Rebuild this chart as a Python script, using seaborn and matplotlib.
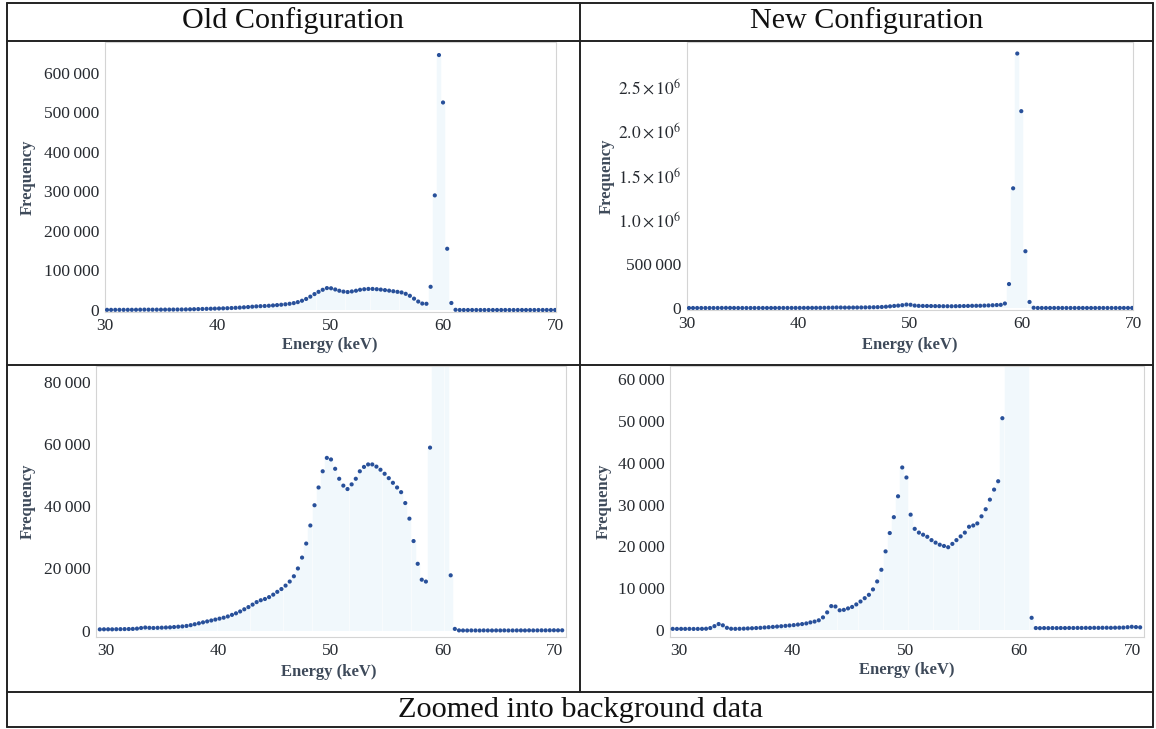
import numpy as np
import pandas as pd
import matplotlib
matplotlib.use("Agg")
import matplotlib.pyplot as plt
import seaborn as sns
from matplotlib.lines import Line2D
from matplotlib.ticker import FixedLocator, FixedFormatter

# ---------------- data ----------------
energy_kev = [
    29.44, 29.81, 30.18, 30.54, 30.91, 31.28, 31.65, 32.02, 32.38, 32.75,
    33.12, 33.49, 33.86, 34.22, 34.59, 34.96, 35.33, 35.70, 36.06, 36.43,
    36.80, 37.17, 37.54, 37.90, 38.27, 38.64, 39.01, 39.38, 39.74, 40.11,
    40.48, 40.85, 41.22, 41.58, 41.95, 42.32, 42.69, 43.06, 43.42, 43.79,
    44.16, 44.53, 44.90, 45.26, 45.63, 46.00, 46.37, 46.74, 47.10, 47.47,
    47.84, 48.21, 48.58, 48.94, 49.31, 49.68, 50.05, 50.42, 50.78, 51.15,
    51.52, 51.89, 52.26, 52.62, 52.99, 53.36, 53.73, 54.10, 54.46, 54.83,
    55.20, 55.57, 55.94, 56.30, 56.67, 57.04, 57.41, 57.78, 58.14, 58.51,
    58.88, 59.25, 59.62, 59.98, 60.35, 60.72, 61.09, 61.46, 61.82, 62.19,
    62.56, 62.93, 63.30, 63.66, 64.03, 64.40, 64.77, 65.14, 65.50, 65.87,
    66.24, 66.61, 66.98, 67.34, 67.71, 68.08, 68.45, 68.82, 69.18, 69.55,
    69.92, 70.29, 70.66,
]

old_counts = [
    450, 470, 480, 460, 500, 520, 540, 560, 600, 700,
    900, 1050, 950, 900, 950, 1000, 1050, 1100, 1200, 1300,
    1400, 1550, 1800, 2100, 2400, 2700, 3000, 3300, 3600, 3900,
    4200, 4600, 5100, 5600, 6200, 6900, 7600, 8400, 9200, 9800,
    10200, 10800, 11600, 12500, 13400, 14500, 15800, 17500, 20000, 23500,
    28000, 33800, 40300, 46000, 51200, 55500, 55000, 52000, 48800, 46600,
    45500, 47000, 48800, 51200, 52600, 53400, 53400, 52700, 51700, 50400,
    49000, 47500, 46000, 44500, 41000, 36000, 28800, 21500, 16400, 15800,
    58800, 290000, 645000, 525000, 155000, 17800, 600, 120, 100, 90,
    110, 100, 80, 120, 100, 90, 110, 100, 120, 90,
    100, 110, 120, 100, 130, 110, 120, 140, 130, 150,
    160, 140, 150,
]

new_counts = [
    250, 240, 250, 240, 250, 230, 240, 250, 280, 450,
    900, 1400, 1100, 500, 280, 250, 270, 300, 350, 400,
    450, 500, 580, 650, 720, 800, 880, 970, 1060, 1150,
    1280, 1400, 1550, 1800, 2000, 2300, 3000, 4200, 5700, 5600,
    4700, 4800, 5150, 5500, 6100, 6800, 7600, 8400, 9700, 11600,
    14400, 18800, 23200, 27000, 32000, 38900, 36500, 27600, 24200, 23300,
    22800, 22300, 21500, 20900, 20400, 20100, 19800, 20600, 21500, 22400,
    23300, 24700, 25000, 25500, 27200, 28900, 31200, 33600, 35600, 50700,
    270000, 1350000, 2870000, 2220000, 640000, 68000, 2900, 450, 420, 440,
    430, 450, 440, 460, 450, 470, 460, 480, 470, 490,
    480, 500, 490, 510, 520, 500, 530, 540, 560, 650,
    750, 680, 620,
]

panel_titles = ["Old Configuration", "New Configuration"]
footer_text = "Zoomed into background data"
x_label = "Energy (keV)"
y_label = "Frequency"

x_ticks = [30, 40, 50, 60, 70]
x_tick_labels = ["30", "40", "50", "60", "70"]

old_full_yticks = [0, 100000, 200000, 300000, 400000, 500000, 600000]
old_full_ylabels = ["0", "100\u2009000", "200\u2009000", "300\u2009000",
                    "400\u2009000", "500\u2009000", "600\u2009000"]
new_full_yticks = [0, 500000, 1000000, 1500000, 2000000, 2500000]
new_full_ylabels = ["0", "500\u2009000", r"$1.0\times 10^{6}$",
                    r"$1.5\times 10^{6}$", r"$2.0\times 10^{6}$",
                    r"$2.5\times 10^{6}$"]
old_zoom_yticks = [0, 20000, 40000, 60000, 80000]
old_zoom_ylabels = ["0", "20\u2009000", "40\u2009000", "60\u2009000", "80\u2009000"]
new_zoom_yticks = [0, 10000, 20000, 30000, 40000, 50000, 60000]
new_zoom_ylabels = ["0", "10\u2009000", "20\u2009000", "30\u2009000",
                    "40\u2009000", "50\u2009000", "60\u2009000"]

# ---------------- style ----------------
sns.set_theme(style="white")
plt.rcParams["font.family"] = ["Liberation Serif", "DejaVu Serif"]
plt.rcParams["mathtext.fontset"] = "stix"

W, H = 1156, 729
fig = plt.figure(figsize=(W / 100, H / 100), dpi=100)
fig.patch.set_facecolor("white")

POINT_COLOR = "#28509a"
FILL_COLOR = "#f1f8fc"
FRAME_COLOR = "#d4d4d4"
TEXT_COLOR = "#262a30"
LABEL_COLOR = "#3e4a5a"


def px_axes(left, top, right, bottom):
    return fig.add_axes([left / W, 1 - bottom / H, (right - left) / W, (bottom - top) / H])


def draw_panel(box, counts, xlim, ylim, yticks, ylabels, ylab_pos, xlab_pos):
    ax = px_axes(*box)
    ax.set_facecolor("white")
    df = pd.DataFrame({"Energy": energy_kev, "Frequency": counts})
    ax.vlines(df["Energy"], 0, df["Frequency"], color=FILL_COLOR, lw=3.2, zorder=1)
    sns.scatterplot(data=df, x="Energy", y="Frequency", ax=ax, s=9,
                    color=POINT_COLOR, edgecolor="none", linewidth=0, zorder=3)
    ax.set_xlim(*xlim)
    ax.set_ylim(*ylim)
    ax.xaxis.set_major_locator(FixedLocator(x_ticks))
    ax.xaxis.set_major_formatter(FixedFormatter(x_tick_labels))
    ax.yaxis.set_major_locator(FixedLocator(yticks))
    ax.yaxis.set_major_formatter(FixedFormatter(ylabels))
    ax.tick_params(axis="both", which="major", length=3, width=0.6,
                   color="#cccccc", direction="in", labelsize=12.5,
                   labelcolor=TEXT_COLOR, pad=4)
    for sp in ax.spines.values():
        sp.set_color(FRAME_COLOR)
        sp.set_linewidth(0.8)
    ax.set_xlabel(x_label, fontsize=12, fontweight="bold", color=LABEL_COLOR)
    ax.set_ylabel(y_label, fontsize=12, fontweight="bold", color=LABEL_COLOR)
    ax.xaxis.set_label_coords(*xlab_pos)
    ax.yaxis.set_label_coords(*ylab_pos)
    ax.xaxis.label.set_va("center")
    ax.yaxis.label.set_va("center")
    ax.grid(False)
    return ax


draw_panel((105, 42, 556, 312), old_counts, (30, 70), (-5000, 678000),
           old_full_yticks, old_full_ylabels, (-0.171, 0.5), (0.499, -0.122))
draw_panel((687, 42, 1133, 310), new_counts, (30, 70), (-22600, 3.0e6),
           new_full_yticks, new_full_ylabels, (-0.18, 0.5), (0.50, -0.13))
draw_panel((96, 366, 566, 637), old_counts, (29.1, 71), (-2000, 85000),
           old_zoom_yticks, old_zoom_ylabels, (-0.145, 0.5), (0.496, -0.129))
draw_panel((670, 366, 1144, 637), new_counts, (29.2, 71), (-1700, 63200),
           new_zoom_yticks, new_zoom_ylabels, (-0.139, 0.5), (0.50, -0.122))

# ---------------- table frame ----------------
def hline(y, x0, x1):
    fig.add_artist(Line2D([x0 / W, x1 / W], [1 - y / H, 1 - y / H],
                          transform=fig.transFigure, color="#222222", lw=1.4, zorder=10))


def vline(x, y0, y1):
    fig.add_artist(Line2D([x / W, x / W], [1 - y0 / H, 1 - y1 / H],
                          transform=fig.transFigure, color="#222222", lw=1.4, zorder=10))


hline(3, 7, 1153)
hline(41, 7, 1153)
hline(365, 7, 1153)
hline(692, 7, 1153)
hline(727, 7, 1153)
vline(7, 3, 727)
vline(1153, 3, 727)
vline(580, 3, 692)

fig.text(293 / W, 1 - 21 / H, panel_titles[0], ha="center", va="center",
         fontsize=21.7, color="#111111")
fig.text(867 / W, 1 - 21 / H, panel_titles[1], ha="center", va="center",
         fontsize=21.7, color="#111111")
fig.text(581 / W, 1 - 710 / H, footer_text, ha="center", va="center",
         fontsize=21.9, color="#111111")

fig.savefig("out.png", dpi=100, facecolor="white")
